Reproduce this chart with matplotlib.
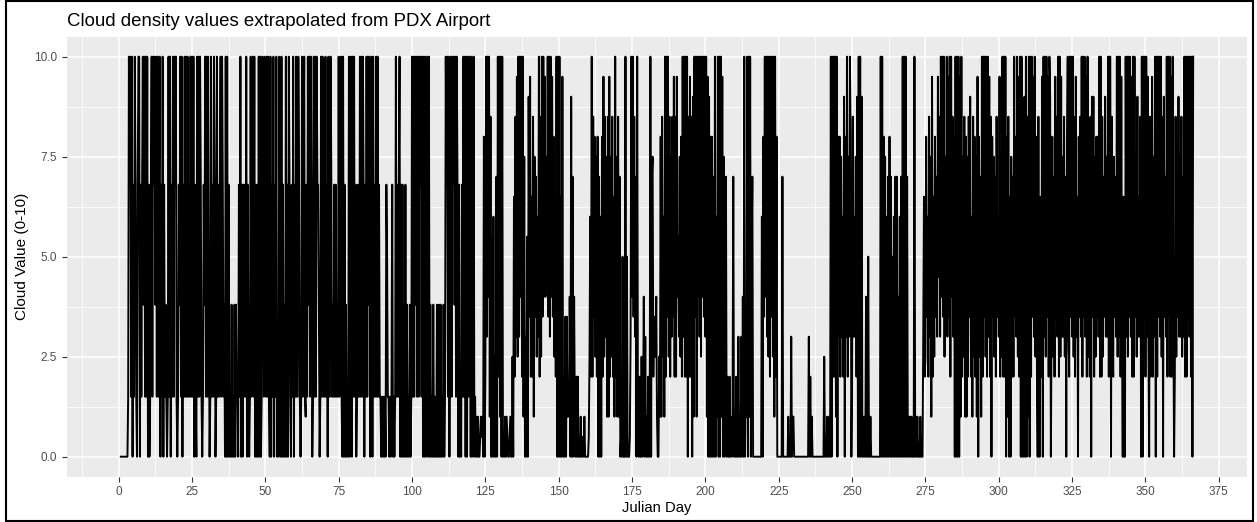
import matplotlib
matplotlib.use("Agg")
import matplotlib.pyplot as plt
from matplotlib.patches import Rectangle
from matplotlib.ticker import MultipleLocator
import numpy as np

plt.rcParams['font.family'] = ['Liberation Sans', 'DejaVu Sans']

# cloud values, 4 samples per day (6-hourly), one group per day
# code: digits = value, A = 10, a = 0.5, p = 1.5, q = 3.8, r = 6.8, c..j = 2.5..9.5
levels = {str(i): float(i) for i in range(10)}
levels.update({'A': 10.0, 'a': 0.5, 'p': 1.5, 'q': 3.8, 'r': 6.8})
levels.update({ch: 2.5 + k for k, ch in enumerate('cdefghij')})

month_start = [0.75, 32, 60, 91, 121, 152, 182, 213, 244, 274, 305, 335]

jan = ("0 0000 0000 0pAr ApA0 rpAr p0rA A0rp rAqA pApA 0r0p rApA rAqA pApr A0rp A0rp qp0p "
       "ApA0 rpAp ArAp 0prq ApA0 rpAp ApAp rpAp ApA0 rp0A pApA rp0p rqAp ApAq 0pAp")
feb = ("rpAr 0pAp rprA pArp q0A0 A0r0 p0q0 p0q0 qpp0 rpA0 r0rp rpA0 rp0p AprA "
       "pA0r 0r0A 0A0p ArpA rpAp Ap0A 0rpA 0rpA 0p0A r0A0 r0q0 A0r0 Arp0 rpA0")
mar = ("rpAp pArp 0pAp rAp1 rpAq ApAr 0pAp ApAr rq0p ApAp rpAp r0Ap pArp qprp rpqp AprA "
       "p0A0 r0q0 p0A0 rA0A pApr 0prp pApA pAr0 rpAp AqA0 rA0A prpA pApr pp0p 0p0p")
apr = ("0r5p p0p0 pr0p 0pAp rprA 0r0r 0q0r 0q0p 0q0p ApAp AqAp ApAr ApA0 A0A0 rA0A "
       "0q0p 0q0p 00q0 0q0q 0p0q 0pAr ApA0 rApA rAqA pAr0 r0p0 rpAp A0A0 ApAr 0A0p")
may = ("A0p0 1010 0a1a 1080 2A3A 4A1i 0f06 0c07 0A2A 1A0A 0a01 01a0 0a10 0c0g 2i3j cA3A "
       "4A2A 1h03 0f09 dj2g 2i1h d7c6 3A2i cAdA 4j4h eAdA 3A4j d8c6 2A0A 0A0g 0j02")
jun = ("0d0d 1p14 0907 0410 2020 0010 0a01 0000 0ac6 2A2i d8ch 2807 0608 2jci 3h1i "
       "1j2h ci2g 1A2h 1i17 0a05 000A 0500 0a3A 4Adi 370A 1020 0c01 4030 1020 0A07")
jul = ("h2d3 c410 0c18 1ic6 1A2A dAci 2h3i dj2i 2j4f 3hc8 2A3A 2A2A 0i2j 2i09 1AdA 1A4A "
       "3AcA 4AdA 3A1j 0908 0807 0A06 1A0A 0A1j 0h03 7020 0201 0170 1020 0301 0304")
aug = ("0A02 1A0A 1A05 7000 0000 0000 0608 dA4A 3AcA 2AdA cA1A 2800 0000 0700 0000 0100 "
       "0301 1000 0000 0000 0000 0000 0302 0100 0000 0000 0000 00c0 0010 010A 0A2A")
sep = ("2A1A 0838 2h36 2908 3A2h 3A80 2i36 3h29 0A0A 0901 0104 0050 0100 0000 0000 "
       "000A 0A08 0h06 0708 0705 0607 0704 0607 0A0A 0A07 0101 0100 0A01 0100 0100")
oct_ = ("03g2 c8d6 2i3h 1j2g c8d7 3jei 3A4A dAch 4A3j dA2A 4i38 0A0A 0A0j 1A2h ci18 1h2i "
        "d926 1ic8 2h1j 08c7 1A2A dAcA 2A3j 2i08 dhc7 2id6 3j2h cA2A 2A08 1i0g 0h27")
nov = ("2Ad8 3Acj 2A0A 0h09 0A0i 1A0A 2Adj 3Ac8 20i0 0g2j 0A3A cAdj 2A90 d8c7 2jdi "
       "3A2A cj3h 3ic7 08A3 2AdA 3Aci 2j3g 08di 3A2A dA3j 2Ac8 2i09 d92h c8d8 3A2A")
dec = ("2ic7 d93h 3A2A A0i3 2hd7 3AcA 3A2j 30g0 0A3A cAdA 3j2A 2Adh c93g 3i0A 0AdA 2A3j "
       "30i2 dj2h 3A0A 2AdA 3Aci 09d7 3A2A dA2j 2Ad0 2ic7 d93h 3ic7 3A2A 2AdA 3A2A 0A")

months = [jan, feb, mar, apr, may, jun, jul, aug, sep, oct_, nov, dec]

days, values = [], []
for start, s in zip(month_start, months):
    s = s.replace(' ', '')
    days.append(start + np.arange(len(s)) / 4.0)
    values.append([levels[c] for c in s])
days = np.concatenate(days)
values = np.concatenate(values)

fig = plt.figure(figsize=(12.57, 5.22), dpi=100)
W, H = 1257, 522
ax = fig.add_axes([67 / W, (H - 476.7) / H, (1247 - 67) / W, (476.7 - 36.7) / H])
ax.set_facecolor('#EBEBEB')

ax.plot(days, values, color='black', linewidth=1.4, zorder=3)

ax.set_xlim(-17.6, 384.6)
ax.set_ylim(-0.5, 10.5)
ax.xaxis.set_major_locator(MultipleLocator(25))
ax.xaxis.set_minor_locator(MultipleLocator(12.5))
ax.yaxis.set_minor_locator(MultipleLocator(1.25))
ax.set_yticks([0, 2.5, 5, 7.5, 10])
ax.set_yticklabels(['0.0', '2.5', '5.0', '7.5', '10.0'])
ax.grid(which='major', color='white', linewidth=1.1, zorder=0)
ax.grid(which='minor', color='white', linewidth=0.55, zorder=0)
ax.set_axisbelow(True)
for sp in ax.spines.values():
    sp.set_visible(False)
ax.tick_params(which='major', length=3.5, width=0.8, color='#333333',
               labelcolor='#4D4D4D', labelsize=8.5, pad=3.5)
ax.tick_params(which='minor', length=0)

ax.set_xlabel('Julian Day', fontsize=10.6, labelpad=2)
ax.set_ylabel('Cloud Value (0-10)', fontsize=11, labelpad=4)
fig.text(67 / W, 1 - 21 / H, 'Cloud density values extrapolated from PDX Airport',
         fontsize=13.4, ha='left', va='center')

fig.patches.append(Rectangle((6 / W, 1 / H), 1247 / W, 520 / H, transform=fig.transFigure,
                             fill=False, edgecolor='black', linewidth=1.5))

fig.savefig('out.png', dpi=100)
